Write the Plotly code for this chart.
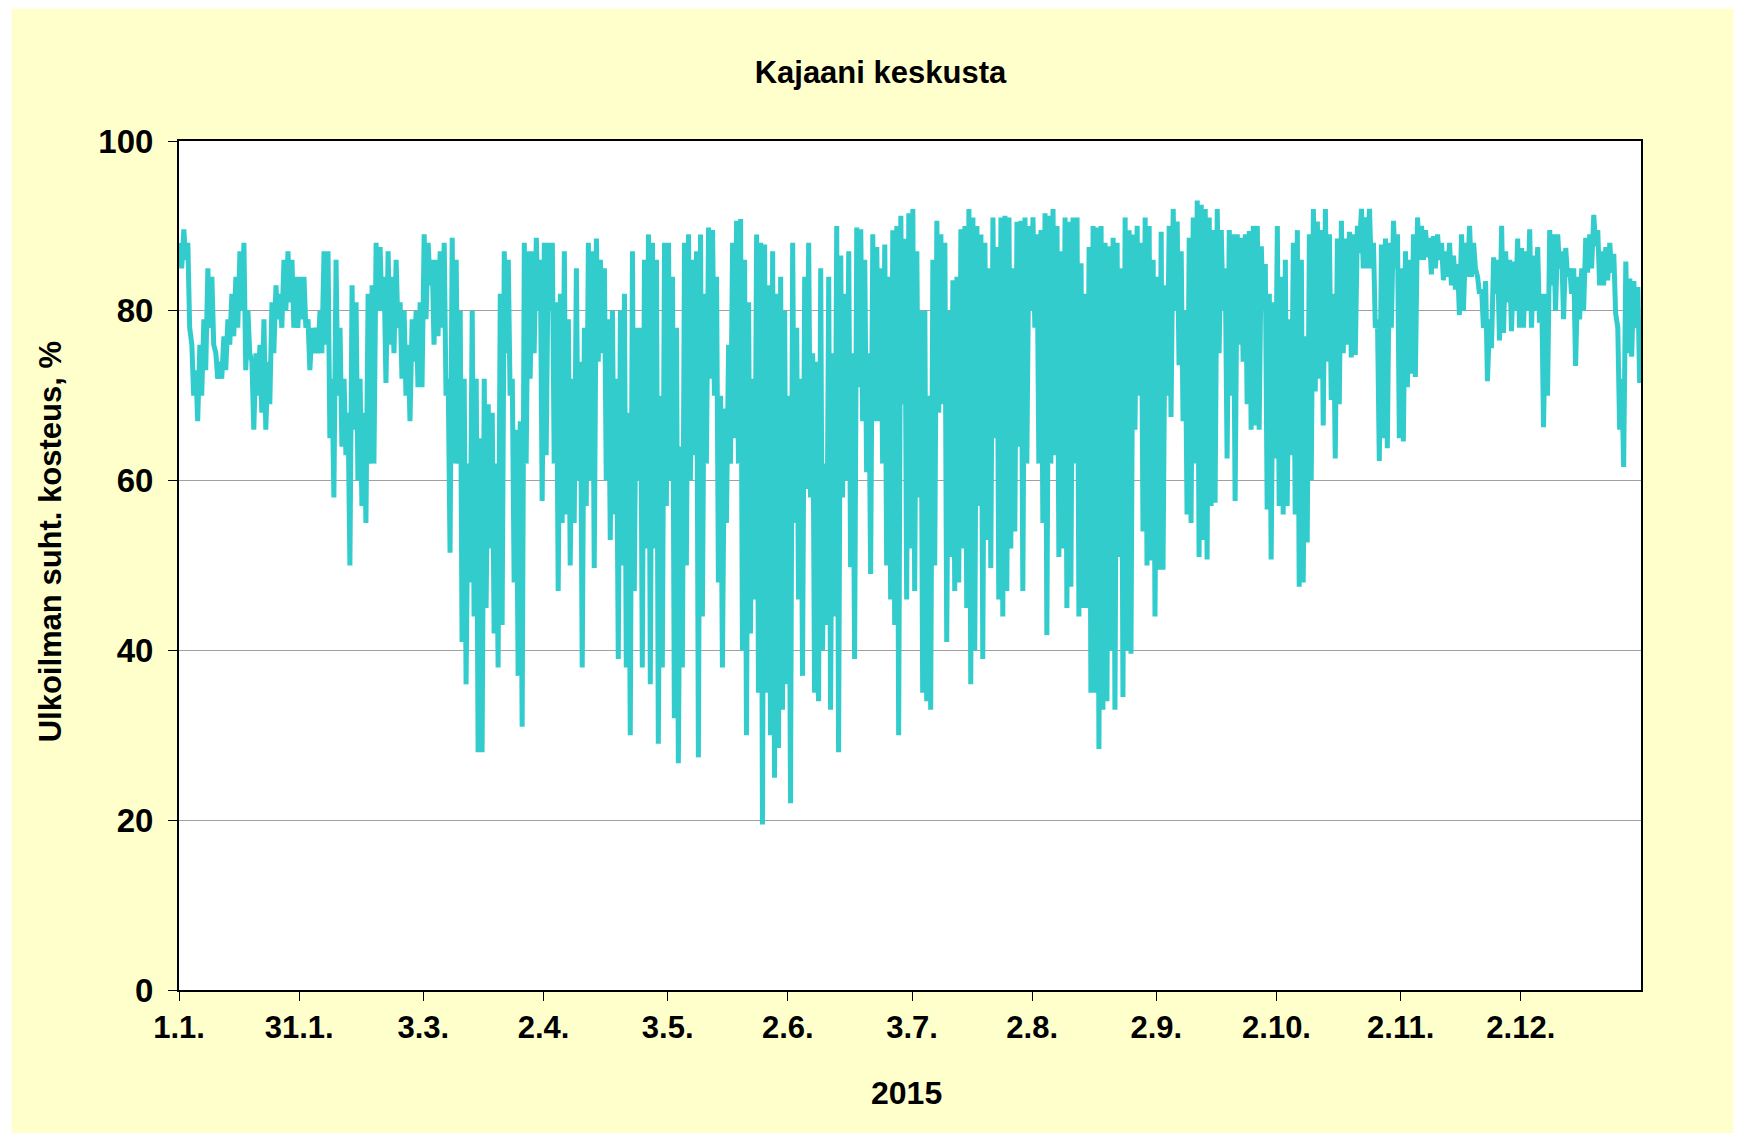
import numpy as np
import pandas as pd
import plotly.graph_objects as go

# Daily high / low relative humidity (%), day 0 = 1.1.2015
day_high = [
    88, 89.6, 88, 76, 73, 76, 79, 85, 84, 75,
    74, 77, 79, 82, 84, 87, 88, 80, 74, 75,
    76, 79, 74, 81, 83, 82, 86, 87, 86, 84,
    84, 84, 79, 78, 78, 80, 87, 87, 72, 86,
    78, 72, 68, 83, 81, 72, 68, 82, 83, 88,
    87.5, 84, 87, 84, 86, 81, 80, 76, 79, 80,
    81, 89, 88, 86, 86, 87, 88, 72, 88.6, 86,
    80, 72, 62, 80, 72, 65, 72, 69, 68, 62,
    82, 87, 86, 72, 66, 67, 88, 87, 87, 88.6,
    86, 88, 88, 88, 81, 82, 87, 79, 72, 85,
    74, 78, 88, 87, 88.5, 86, 85, 79, 80, 72,
    80, 82, 68, 87, 78, 78, 86, 89, 88, 86,
    70, 88, 88, 84, 78, 64, 88, 89, 86, 87,
    89, 82, 89.8, 89.5, 84, 70, 68.5, 76, 88, 90.6,
    90.8, 86, 81, 72, 89, 88, 87.8, 83, 87, 82,
    84, 80, 70, 88, 78, 72, 84, 88, 75, 74,
    85, 62, 84, 75, 90, 86.5, 82, 87, 75, 89.8,
    89.6, 86, 75, 89, 87.5, 85, 87.8, 84, 89.5, 90,
    91.2, 88.5, 91.5, 92, 87, 80, 80, 70, 86, 90.6,
    89, 88, 80, 83.6, 84, 89.6, 90, 92, 91, 90,
    89, 88, 85, 91, 87.5, 91, 91.2, 91, 85, 90.5,
    90.6, 91, 90, 91, 89, 89.5, 91.5, 91.2, 92, 90,
    87, 91, 90.5, 91, 91, 85.6, 82, 87.5, 90, 89.8,
    90, 88, 87.6, 88.6, 88, 85, 91, 89.5, 89, 90,
    88, 91, 90, 86, 84, 89.3, 83, 90, 92, 90.5,
    87, 80, 88.6, 91, 93, 92.5, 92, 91, 89.5, 92,
    89.5, 85, 89.5, 89, 89, 88.6, 89, 89.4, 90, 90,
    87.6, 85.5, 82, 81, 90, 84, 86, 79, 88, 89.5,
    86, 77, 89, 92, 90.5, 89.5, 92, 89, 82, 88.5,
    90.6, 88.5, 89.3, 89, 90, 92, 91, 92, 88, 79,
    87.8, 88.5, 88, 90.6, 89, 85, 87, 86, 89, 91,
    90, 89.5, 88.6, 88.8, 89, 88, 87, 88, 86.5, 85.5,
    89, 88, 90, 88, 84, 82.5, 83.5, 79, 86.3, 86,
    90, 87, 86, 85.8, 88.5, 87.4, 87, 89.6, 86.5, 87.5,
    82, 82, 89.5, 89, 89, 87, 87.4, 85, 85, 84,
    85, 88.6, 89, 91.3, 89.5, 87, 87.5, 88, 86.7, 78,
    72, 85.8, 83.8, 83.5, 82.8,
]

day_low = [
    85, 86, 78, 70, 67, 70, 73, 78, 76, 72,
    72, 73, 76, 77, 78, 80, 73, 75, 66, 70,
    68, 66, 69, 75, 79, 78, 80, 81, 78, 78,
    79, 78, 73, 75, 75, 75, 76, 65, 58, 70,
    64, 63, 50, 66, 60, 57, 55, 62, 62, 80,
    80, 71.5, 76, 75, 78, 72, 70, 67, 74, 71,
    71, 79, 83, 76, 77, 78, 70, 51.5, 62, 62,
    41, 36, 48, 44, 28, 28, 45, 52, 42, 38,
    43, 75, 70, 48, 37, 31, 62, 72, 75, 80,
    57.6, 63, 80, 62, 47, 55, 56, 50, 55, 60,
    38, 57, 60, 49.7, 74, 75, 60, 53, 56, 39,
    50, 38, 30, 47, 60, 38, 52, 36, 52, 29,
    38, 57, 60, 32, 26.7, 38, 50, 60, 63, 27.4,
    44, 62, 72, 70, 48, 38, 55, 62, 65, 62,
    40, 30, 42, 46, 35, 19.5, 35, 30, 25, 28.5,
    33, 36, 22, 55, 46, 37, 59, 58, 35, 34,
    40, 43, 33, 44, 28, 58, 60, 49.8, 39, 71,
    67, 61, 49, 67, 67, 62, 50, 46, 43, 30,
    69, 46, 52, 47, 58, 35, 34, 33, 50, 68,
    69, 41, 51, 47, 48, 52, 45, 36, 40, 57,
    39, 53, 49.7, 65, 46, 44, 47, 52, 54, 64,
    47, 62, 80, 78, 62, 55, 41.8, 62, 63, 51,
    52, 45, 47.5, 62, 44, 45, 45, 35, 35, 28.4,
    33, 34, 40, 33, 51, 34.5, 40, 39.6, 66, 70,
    54, 50, 50.6, 44, 49.5, 49.5, 70, 67.5, 80, 73.6,
    67, 56, 55, 62, 51, 53, 50.7, 57, 57.4, 75,
    80, 62.6, 70, 57.6, 76, 74, 69, 66, 66.5, 66,
    80, 56.6, 50.7, 62.6, 57, 56, 57, 63, 56, 47.5,
    48, 52.7, 60, 70.5, 72, 66.5, 74, 69.5, 62.6, 69,
    75, 76, 74.5, 74.8, 86.8, 85, 85, 85, 78, 62.3,
    65, 63.8, 78, 85, 65, 64.6, 71, 72.6, 72.2, 86,
    86, 86.3, 84.3, 85, 86, 83.6, 84, 83, 82.5, 79.5,
    80, 84, 84, 85, 82, 78, 71.7, 75.6, 82, 76.5,
    77.4, 81, 77.6, 80, 78, 78, 80, 78, 80, 78.6,
    66.3, 70, 83, 80, 85, 79, 84, 82, 73.5, 79,
    80, 84.5, 85, 87.6, 83, 83, 83.6, 84.5, 79.7, 66,
    61.6, 75, 74.6, 78, 71.5,
]

tick_dates = ["2015-01-01", "2015-01-31", "2015-03-03", "2015-04-02", "2015-05-03",
              "2015-06-02", "2015-07-03", "2015-08-02", "2015-09-02", "2015-10-02",
              "2015-11-02", "2015-12-02"]
tick_labels = ["1.1.", "31.1.", "3.3.", "2.4.", "3.5.", "2.6.", "3.7.", "2.8.",
               "2.9.", "2.10.", "2.11.", "2.12."]
y_ticks = [0, 20, 40, 60, 80, 100]

# Build the series: a morning high and an afternoon low for each day
start = pd.Timestamp("2015-01-01")
days = pd.date_range(start, periods=len(day_high), freq="D")
times = []
values = []
for d, h, l in zip(days, day_high, day_low):
    times.append(d + pd.Timedelta(hours=5))
    values.append(h)
    times.append(d + pd.Timedelta(hours=16))
    values.append(l)

FONT = "Liberation Sans, Arial, sans-serif"

fig = go.Figure()
fig.add_trace(go.Scatter(
    x=times, y=values, mode="lines",
    line=dict(color="#33CCCC", width=5),
    hoverinfo="skip", showlegend=False,
))

# page offset of the figure (body margin)
OFF = 8
W, H = 1744 - OFF, 1139 - OFF
# plot area in page pixels
L, R, T, B = 178.5 - OFF, 1640.6 - OFF, 141.3 - OFF, 990.0 - OFF
pw, ph = R - L, B - T

def px(xp):
    return (xp - OFF - L) / pw

def py(yp):
    return (B - (yp - OFF)) / ph

# yellow chart background with a white frame around it
fig.add_shape(type="rect", xref="paper", yref="paper",
              x0=px(11), x1=px(1733), y0=py(1133), y1=py(9),
              fillcolor="#FFFFCC", line=dict(width=0), layer="below")
# white plot area
fig.add_shape(type="rect", xref="paper", yref="paper",
              x0=0, x1=1, y0=0, y1=1,
              fillcolor="white", line=dict(width=0), layer="below")

fig.update_layout(
    width=W, height=H,
    margin=dict(l=L, r=W - R, t=T, b=H - B, pad=0),
    paper_bgcolor="white",
    plot_bgcolor="white",
    font=dict(family=FONT, color="black", size=30, weight="bold"),
    title=dict(text="<b>Kajaani keskusta</b>", xref="paper", x=px(880), xanchor="center",
               yref="container", y=1 - (72 - OFF) / H, yanchor="middle",
               font=dict(family=FONT, size=31, color="black")),
    xaxis=dict(
        type="date",
        range=[start, pd.Timestamp("2016-01-01")],
        tickvals=tick_dates, ticktext=tick_labels,
        ticks="outside", ticklen=9, tickwidth=1, tickcolor="black",
        showline=True, linecolor="black", linewidth=2, mirror=True,
        showgrid=False, zeroline=False,
        tickfont=dict(family=FONT, size=31, color="black", weight="bold"),
        ticklabelstandoff=0,
    ),
    yaxis=dict(
        range=[0, 100], tickvals=y_ticks,
        ticks="outside", ticklen=9, tickwidth=1, tickcolor="black",
        showline=True, linecolor="black", linewidth=2, mirror=True,
        showgrid=True, gridcolor="#A0A0A0", gridwidth=1, zeroline=False,
        tickfont=dict(family=FONT, size=33, color="black", weight="bold"),
        ticklabelstandoff=8,
    ),
    annotations=[
        dict(text="<b>Ulkoilman suht. kosteus, %</b>", xref="paper", yref="paper",
             x=px(50), y=py(542), textangle=-90, showarrow=False,
             xanchor="center", yanchor="middle",
             font=dict(family=FONT, size=31, color="black")),
        dict(text="<b>2015</b>", xref="paper", yref="paper",
             x=px(906), y=py(1093), showarrow=False,
             xanchor="center", yanchor="middle",
             font=dict(family=FONT, size=32, color="black")),
    ],
)

fig.write_html("out.html")
